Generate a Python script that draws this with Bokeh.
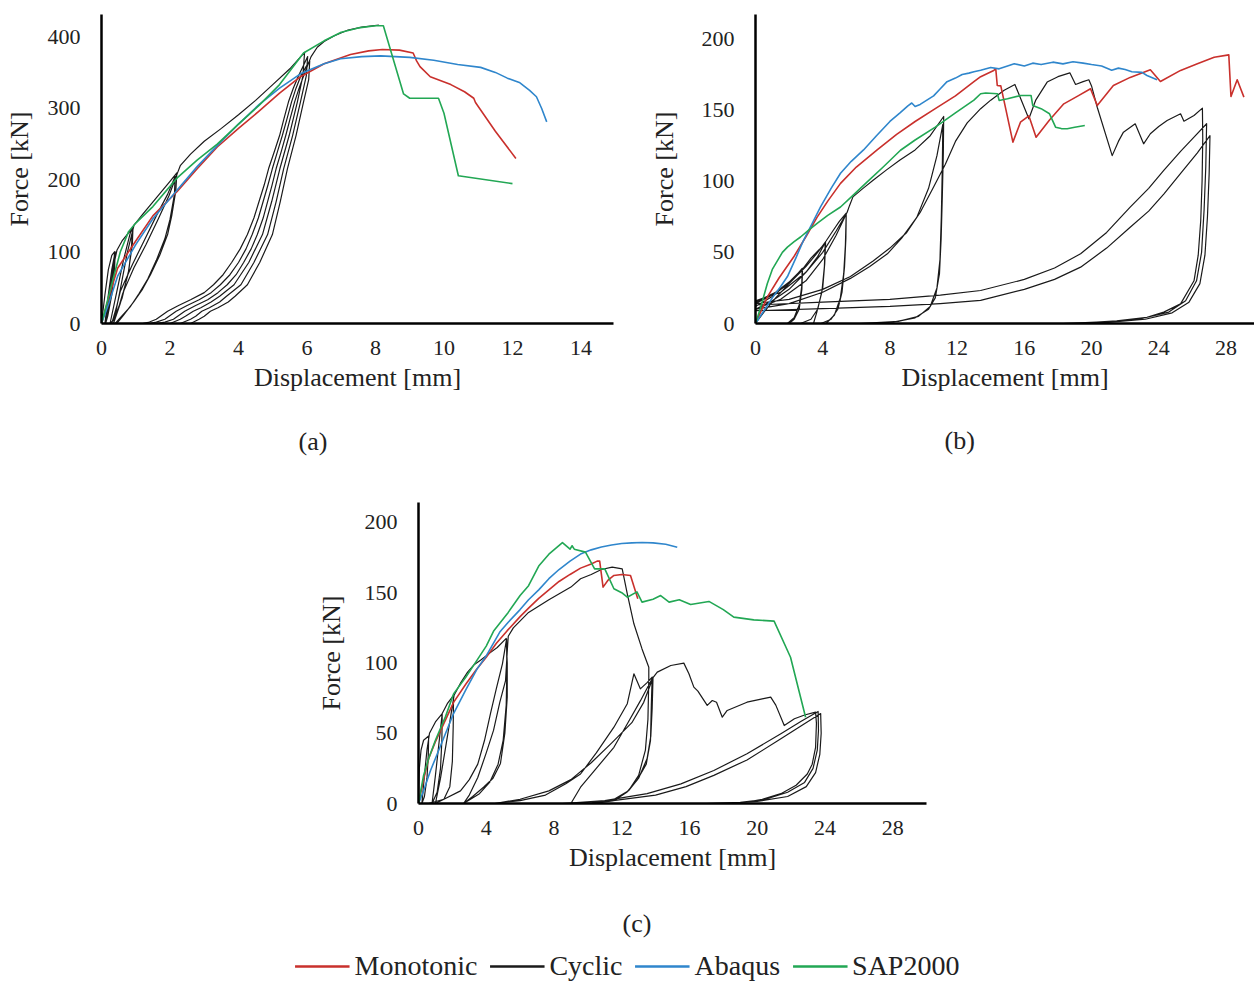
from bokeh.plotting import figure
from bokeh.layouts import column, row
from bokeh.models import Range1d, FixedTicker, Title, Legend, LegendItem
from bokeh.embed import file_html
from bokeh.resources import INLINE

FONT = "Liberation Serif"
TXT = "#222222"
RED = "#C9302C"
BLACK = "#1a1a1a"
BLUE = "#2F86CC"
GREEN = "#22A754"

SERIES = ["Monotonic", "Cyclic", "Abaqus", "SAP2000"]

# ---------------- (a) ----------------
a_xticks = [0, 2, 4, 6, 8, 10, 12, 14]
a_yticks = [0, 100, 200, 300, 400]

a_mono_x = [0, 0.25, 0.47, 1.0, 1.5, 2.21, 2.8, 3.38, 4.0, 4.6, 5.2, 5.81, 6.5, 7.27, 7.8, 8.2, 8.7, 9.1, 9.2, 9.3, 9.6, 10.2, 10.6, 10.87, 10.92, 11.5, 12.1]
a_mono_y = [0, 42, 77, 115, 150, 184, 216, 246, 272, 296, 321, 344, 362, 375, 380, 382, 381, 377, 366, 358, 344, 333, 323, 314, 308, 268, 230]

a_abq_x = [0, 0.2, 0.47, 1.0, 1.5, 2.21, 2.8, 3.38, 4.0, 4.6, 5.2, 5.81, 6.5, 6.98, 7.6, 8.15, 9.0, 9.7, 10.4, 11.07, 11.5, 11.85, 12.2, 12.5, 12.7, 12.85, 13.0]
a_abq_y = [0, 26, 66, 110, 146, 186, 219, 248, 278, 305, 328, 348, 362, 369, 372, 373, 371, 367, 361, 357, 350, 342, 336, 325, 316, 300, 281]

a_sap_x = [0, 0.3, 0.55, 0.79, 1.0, 1.5, 2.21, 2.8, 3.38, 4.0, 4.6, 5.2, 5.9, 6.5, 7.0, 7.5, 8.0, 8.23, 8.82, 9.0, 9.84, 10.0, 10.42, 12.0]
a_sap_y = [0, 55, 100, 128, 140, 163, 203, 228, 250, 278, 304, 333, 377, 394, 406, 412, 415, 415, 320, 314, 314, 293, 206, 195]

a_cyclic = [
    (0, 0), (0.1, 40), (0.2, 75), (0.3, 95), (0.38, 100),
    (0.36, 80), (0.3, 50), (0.2, 20), (0.1, 0),
    (0.2, 40), (0.3, 75), (0.4, 100),
    (0.38, 75), (0.3, 40), (0.18, 10), (0.12, 0),
    (0.25, 45), (0.35, 80), (0.45, 102),
    (0.6, 115), (0.8, 127), (0.9, 133),
    (0.88, 110), (0.8, 75), (0.6, 35), (0.35, 5), (0.25, 0),
    (0.45, 45), (0.65, 90), (0.85, 128), (0.92, 135),
    (0.9, 110), (0.78, 70), (0.55, 28), (0.35, 0),
    (0.55, 48), (0.75, 98), (0.95, 137),
    (1.2, 152), (1.6, 175), (2.0, 198), (2.2, 210),
    (2.17, 185), (2.05, 150), (1.93, 124), (1.7, 95), (1.43, 68), (1.2, 48), (0.94, 30), (0.65, 12), (0.45, 0),
    (0.3, 0), (0.45, 25), (0.55, 45), (0.9, 82), (1.23, 114), (1.6, 150), (1.93, 180), (2.15, 205),
    (2.13, 180), (2.0, 145), (1.85, 118), (1.6, 88), (1.35, 62), (1.1, 42), (0.85, 24), (0.55, 8), (0.4, 0),
    (0.35, 0), (0.5, 22), (0.62, 42), (0.95, 78), (1.3, 110), (1.65, 145), (1.97, 178), (2.22, 210),
    (2.3, 220), (2.6, 236), (3.0, 254), (3.5, 272), (4.0, 291), (4.5, 311), (5.0, 333), (5.5, 355), (5.93, 378),
    (5.88, 345), (5.72, 309), (5.48, 262), (5.21, 216), (4.97, 170), (4.70, 124), (4.3, 85), (3.87, 54), (3.45, 38), (3.2, 30), (2.9, 22), (2.68, 17), (2.45, 10), (2.3, 6), (2.0, 0),
    (1.2, 0), (1.4, 2), (1.6, 6), (1.93, 17), (2.25, 25), (2.6, 33), (3.0, 43), (3.27, 54), (3.55, 68), (3.8, 85), (4.05, 104), (4.26, 124), (4.45, 147), (4.6, 170), (4.75, 193), (4.88, 216), (5.05, 240), (5.2, 262), (5.33, 286), (5.46, 309), (5.6, 328), (5.75, 345), (5.9, 360), (6.02, 372),
    (5.98, 345), (5.81, 309), (5.58, 262), (5.32, 216), (5.1, 170), (4.85, 124), (4.45, 85), (4.07, 54), (3.65, 38), (3.45, 30), (3.15, 22), (2.93, 17), (2.75, 10), (2.6, 6), (2.3, 0),
    (1.4, 0), (1.6, 2), (1.85, 6), (2.18, 17), (2.5, 25), (2.85, 33), (3.2, 43), (3.47, 54), (3.75, 68), (4.0, 85), (4.22, 104), (4.40, 124), (4.58, 147), (4.72, 170), (4.86, 193), (4.99, 216), (5.14, 240), (5.28, 262), (5.42, 286), (5.55, 309), (5.68, 328), (5.82, 345), (5.96, 357), (6.08, 366),
    (6.05, 340), (5.9, 309), (5.68, 262), (5.43, 216), (5.22, 170), (4.99, 124), (4.62, 85), (4.26, 54), (3.9, 38), (3.7, 30), (3.4, 22), (3.18, 17), (3.0, 10), (2.85, 6), (2.6, 0),
    (1.6, 0), (1.85, 2), (2.1, 6), (2.43, 17), (2.75, 25), (3.1, 33), (3.4, 43), (3.67, 54), (3.93, 68), (4.15, 85), (4.37, 104), (4.55, 124), (4.72, 147), (4.85, 170), (4.98, 193), (5.10, 216), (5.25, 240), (5.38, 262), (5.51, 286), (5.64, 309), (5.77, 328), (5.9, 345),
    (6.02, 360), (6.12, 372), (6.3, 385), (6.5, 393), (6.8, 401), (7.2, 409), (7.6, 413), (8.1, 416),
]

# ---------------- (b) ----------------
b_xticks = [0, 4, 8, 12, 16, 20, 24, 28]
b_yticks = [0, 50, 100, 150, 200]

b_mono_x = [0, 0.7, 1.4, 2.27, 3.0, 3.67, 4.3, 5.06, 6.0, 7.24, 8.4, 9.5, 10.7, 11.9, 13.0, 13.4, 14.18, 14.3, 14.39, 14.6, 15.32, 15.77, 16.27, 16.7, 17.5, 18.35, 19.2, 19.94, 20.34, 21.3, 22.3, 23.5, 24.1, 25.3, 26.3, 27.3, 28.17, 28.3, 28.67, 29.07]
b_mono_y = [0, 18.5, 32, 46.7, 61, 74.8, 86, 98.5, 110, 122, 133, 142, 151, 160, 170, 173.5, 177.9, 179, 167.3, 167, 127.5, 141.5, 146, 131, 143, 154.4, 160, 165, 153.3, 167.3, 173, 178.3, 170.1, 177.9, 182.5, 187.2, 188.8, 159.6, 171.3, 159.1]

b_abq_x = [0, 0.5, 1.0, 1.5, 1.9, 2.4, 2.86, 3.4, 3.87, 4.5, 5.06, 5.7, 6.43, 7.2, 8.0, 8.6, 9.07, 9.3, 9.5, 9.8, 10.2, 10.6, 11.0, 11.4, 11.9, 12.3, 12.7, 13.0, 13.4, 14.0, 14.5, 15.0, 15.4, 16.0, 16.5, 17.0, 17.7, 18.3, 18.9, 19.5, 20.0, 20.6, 21.2, 21.6, 22.0, 22.4, 23.0, 23.3, 23.9]
b_abq_y = [0, 9, 18, 26, 33, 46, 58.5, 71, 82, 95, 105.6, 114, 122, 132, 142, 148, 153, 155, 152.5, 154, 157, 160, 165, 170, 172.5, 175, 176, 177, 178, 180, 179, 181, 182.6, 181, 183, 182, 183.7, 182.5, 184, 183, 182, 181, 178, 179.5, 178.5, 177, 176.5, 174.3, 171.3]

b_sap_x = [0, 0.3, 0.7, 1.0, 1.3, 1.6, 1.9, 2.3, 2.68, 3.2, 3.67, 4.3, 5.06, 5.8, 6.65, 7.6, 8.63, 9.5, 10.7, 11.9, 13.0, 13.4, 13.7, 14.4, 14.5, 15.0, 15.8, 16.4, 16.5, 17.0, 17.5, 17.86, 18.2, 18.55, 19.0, 19.6]
b_sap_y = [0, 11, 28, 38, 44, 50, 53.7, 57.5, 60.8, 66, 70.4, 76, 81.9, 90, 99.5, 110, 121.8, 129, 138, 148, 157, 161.5, 162, 161.5, 156.8, 158, 160.3, 160.3, 153.3, 151, 147.4, 138, 137, 136.9, 138, 139.2]

b_cyclic = [
    (0, 0), (0.5, 8), (1.2, 18), (2.0, 28), (2.78, 38.7),
    (2.75, 26), (2.6, 13), (2.3, 4), (1.9, 0), (0, 0), (0, 12),
    (1.0, 19), (2.0, 29), (2.8, 38.5),
    (2.76, 24), (2.6, 10), (2.3, 3), (2.0, 0), (0, 0), (0, 15),
    (1.2, 22), (2.2, 31), (2.85, 39),
    (3.3, 46), (3.8, 52), (4.17, 57),
    (4.12, 42), (4.0, 25), (3.7, 10), (3.3, 3), (2.68, 0), (0, 0), (0, 10),
    (1.0, 16), (2.0, 24), (3.0, 36), (3.7, 47), (4.15, 57),
    (4.1, 40), (3.95, 22), (3.65, 8), (3.45, 0), (0, 0), (0, 14),
    (1.0, 20), (2.0, 28), (3.0, 40), (3.7, 50), (4.2, 58),
    (4.6, 65), (5.0, 72), (5.4, 77.5),
    (5.38, 60), (5.3, 40), (5.15, 22), (4.9, 10), (4.5, 3), (3.9, 0), (0, 0), (0, 10),
    (1.5, 17), (3.0, 30), (4.0, 45), (4.8, 62), (5.4, 77),
    (5.35, 55), (5.25, 35), (5.05, 18), (4.7, 6), (4.2, 0), (0, 0), (0, 16),
    (1.5, 22), (3.0, 36), (4.0, 50), (4.8, 65), (5.45, 78),
    (5.6, 83), (5.8, 89), (6.4, 95), (7.0, 100.7), (7.8, 108), (8.6, 115), (9.5, 122), (10.4, 132), (11.2, 145.5),
    (11.18, 120), (11.12, 90), (11.05, 60), (10.95, 35), (10.7, 18), (10.3, 10), (9.5, 4), (8.2, 1), (6.5, 0), (0, 0), (0, 10),
    (2.0, 14), (4.0, 22), (5.65, 31.7), (6.8, 40), (7.85, 49), (8.7, 60), (9.6, 74.6), (10.3, 95), (10.8, 118), (11.15, 140),
    (11.12, 110), (11.06, 75), (10.98, 45), (10.8, 25), (10.4, 12), (9.7, 5), (8.5, 1.5), (6.2, 0), (0, 0), (0, 14),
    (2.0, 17), (4.0, 24), (5.65, 33), (7.0, 44), (8.0, 53), (9.0, 64), (9.8, 78), (10.6, 96), (11.3, 112), (11.9, 128), (12.6, 141), (13.4, 151), (14.0, 157), (14.8, 164), (15.44, 168),
    (16.27, 143.9), (16.67, 156.8), (17.0, 163), (17.36, 169.7), (18.0, 173.5), (18.71, 176.2), (19.05, 168), (19.5, 170), (19.84, 171.3), (20.0, 167), (20.34, 152), (21.23, 118), (21.6, 128), (21.9, 134.5), (22.6, 140.4), (23.1, 126.3), (23.5, 133.4), (24.0, 138.5), (24.5, 142.7), (25.3, 147.4), (25.5, 142.2), (26.1, 146.2), (26.6, 151.4),
    (26.62, 130), (26.58, 100), (26.5, 72.4), (26.35, 48), (26.1, 30), (25.3, 13.8), (24.3, 8), (23.3, 4.4), (21.5, 1.8), (20.3, 1), (18.3, 0), (0, 0), (0, 13),
    (4.0, 15), (8.0, 17), (11.0, 20), (13.4, 23.2), (16.0, 31), (17.8, 39), (19.35, 49), (20.9, 64), (22.3, 81.8), (23.4, 95), (24.3, 107.6), (25.3, 121), (26.1, 131), (26.85, 140.4),
    (26.8, 110), (26.7, 80), (26.55, 50), (26.25, 30), (25.6, 16), (24.6, 8), (23.0, 3.5), (21.0, 1), (18.8, 0), (0, 0), (0, 9),
    (4.0, 10.5), (8.0, 12), (11.0, 14), (13.4, 16.2), (16.0, 24), (17.8, 31), (19.35, 39.6), (20.9, 53), (22.3, 67.7), (23.4, 79), (24.3, 91), (25.4, 107), (26.3, 120), (27.05, 132),
    (27.0, 105), (26.9, 75), (26.75, 48), (26.45, 28), (25.8, 15), (24.8, 7.5), (23.2, 3), (21.0, 0.8), (19.0, 0),
]

# ---------------- (c) ----------------
c_xticks = [0, 4, 8, 12, 16, 20, 24, 28]
c_yticks = [0, 50, 100, 150, 200]

c_mono_x = [0, 0.3, 0.6, 1.0, 1.5, 2.07, 2.8, 3.4, 4.0, 4.6, 5.24, 6.0, 6.5, 7.1, 7.7, 8.3, 8.95, 9.57, 10.2, 10.55, 10.7, 10.9, 11.2, 11.54, 12.0, 12.52, 12.95]
c_mono_y = [0, 17, 32, 44, 57, 72, 85, 95, 104, 114, 123, 133, 139, 146, 152, 158, 163, 167.5, 170.5, 172.5, 172.5, 154, 159, 162.3, 163, 162.3, 145.7]

c_abq_x = [0, 0.3, 0.71, 1.1, 1.5, 2.07, 2.8, 3.47, 4.0, 4.8, 5.3, 6.0, 6.5, 7.1, 7.7, 8.3, 8.95, 9.57, 10.2, 10.8, 11.4, 12.0, 12.6, 13.2, 13.85, 14.6, 15.28]
c_abq_y = [0, 9, 23.5, 35, 47, 64, 81, 96, 105, 122, 129, 138, 145, 152, 160, 166.5, 172.5, 177.5, 180.5, 182.5, 184, 185, 185.5, 185.7, 185.5, 184.5, 182.4]

c_sap_x = [0, 0.3, 0.6, 1.0, 1.6, 2.07, 2.8, 3.4, 4.0, 4.45, 5.3, 6.0, 6.5, 7.1, 7.7, 8.5, 8.95, 9.07, 9.2, 9.86, 10.4, 11.0, 11.54, 12.0, 12.33, 12.9, 13.2, 13.85, 14.3, 14.8, 15.4, 16.07, 17.15, 18.0, 18.62, 19.8, 21.0, 21.97, 22.86]
c_sap_y = [0, 20, 32, 45, 62, 78, 90, 101, 112, 123, 136, 148, 155, 169, 177.4, 185.7, 181, 183.4, 181, 178.9, 167, 167, 152.8, 150, 146.8, 150.6, 143.3, 145.4, 148, 143.3, 145, 141.6, 143.8, 138, 132.6, 130.7, 129.8, 104.1, 61.4]

c_cyclic = [
    (0, 0), (0.05, 25), (0.15, 38), (0.3, 45), (0.6, 48),
    (0.58, 35), (0.5, 18), (0.35, 5), (0.2, 0),
    (0.35, 20), (0.5, 38), (0.65, 50), (1.0, 58), (1.4, 64),
    (1.38, 45), (1.3, 25), (1.1, 8), (0.8, 0),
    (1.0, 20), (1.2, 42), (1.4, 64), (1.7, 71), (2.07, 77),
    (2.05, 55), (2.0, 30), (1.85, 12), (1.5, 3), (1.0, 0),
    (1.3, 18), (1.6, 40), (1.9, 62), (2.1, 77),
    (2.5, 86), (2.9, 93.5), (3.3, 99), (3.66, 102), (4.2, 107), (4.65, 111), (5.18, 117.5),
    (5.24, 100), (5.24, 75.6), (5.1, 50), (4.84, 28.5), (4.4, 18), (3.84, 11.6), (3.2, 5), (2.66, 0),
    (0.6, 0), (1.5, 3), (2.48, 9), (3.0, 17), (3.5, 28), (3.9, 45), (4.25, 64), (4.6, 82), (4.96, 99.6), (5.2, 117),
    (5.22, 95), (5.18, 70), (5.0, 45), (4.7, 28), (4.2, 15), (3.6, 7), (2.66, 0),
    (3.0, 6), (3.5, 18.5), (4.0, 36), (4.43, 52), (4.8, 72), (5.14, 87.5), (5.25, 110), (5.3, 119),
    (5.6, 125), (6.5, 136), (7.7, 145), (9.0, 154), (9.57, 159.9), (10.2, 163), (10.8, 166.5), (11.44, 168.2), (12.03, 167), (12.33, 149.2), (12.72, 127.9), (13.2, 110), (13.6, 97), (13.6, 88.7),
    (13.55, 60), (13.4, 38), (13.0, 20), (12.4, 9), (11.4, 2), (10.2, 0),
    (4.4, 0), (6.0, 2), (7.5, 6), (8.7, 14), (9.57, 21), (10.5, 36), (11.54, 54.3), (12.33, 71), (12.72, 92.3),
    (13.1, 81.6), (13.5, 86), (13.8, 89.9),
    (13.75, 70), (13.7, 44.8), (13.45, 28), (12.9, 16.4), (12.3, 8), (11.54, 2), (10.4, 0),
    (9.0, 0), (9.57, 11.6), (10.5, 25), (11.54, 40), (12.3, 56), (13.1, 73), (13.85, 90),
    (13.8, 68), (13.72, 48), (13.5, 32), (13.0, 18), (12.4, 9), (11.6, 3), (10.6, 0),
    (4.5, 0), (6.0, 3), (7.7, 9), (9.0, 17), (10.2, 29), (11.4, 43), (12.6, 57.5), (13.3, 72), (13.85, 89.5),
    (14.1, 93.5), (14.9, 98.2), (15.67, 99.9), (15.97, 92.3), (16.26, 82.8), (16.5, 80), (17.05, 69.8), (17.35, 73.3), (17.6, 72), (17.94, 61.4), (18.23, 66.2), (19.4, 72.1), (20.3, 74.5), (20.8, 75.7), (21.1, 70), (21.6, 55.5), (22.2, 60.3), (22.8, 63), (23.45, 65),
    (23.5, 57), (23.45, 40), (23.25, 28), (22.96, 21), (22.3, 13), (21.4, 7), (20.3, 3), (19.4, 1), (17.5, 0),
    (8.5, 0), (11.0, 2), (13.5, 7), (15.5, 14), (17.44, 23.5), (19.4, 35.4), (21.4, 49.6), (22.6, 58.5), (23.6, 65.5),
    (23.62, 52), (23.55, 38), (23.3, 25), (22.8, 15), (21.8, 8), (20.5, 3), (19.0, 0.8), (17.0, 0),
    (9.0, 0), (11.5, 2), (14.0, 6), (15.8, 12), (17.44, 20), (19.4, 31), (21.4, 46), (22.7, 56), (23.75, 64),
    (23.78, 50), (23.7, 35), (23.45, 22), (22.9, 12), (21.8, 5), (20.0, 1.5), (18.0, 0),
]


def make_panel(xmax, ymax, xticks, yticks, fw, fh, bl, bt, br, bb, ylab_standoff):
    p = figure(frame_width=fw, frame_height=fh,
               x_range=Range1d(0, xmax), y_range=Range1d(0, ymax),
               output_backend="svg", toolbar_location=None,
               min_border_left=bl, min_border_right=br,
               min_border_top=bt, min_border_bottom=bb)
    p.outline_line_color = None
    p.grid.visible = False
    p.background_fill_color = "white"
    p.border_fill_color = "white"
    for ax in (p.xaxis[0], p.yaxis[0]):
        ax.axis_line_width = 2.5
        ax.axis_line_color = "black"
        ax.major_tick_line_color = None
        ax.minor_tick_line_color = None
        ax.major_tick_out = 0
        ax.major_tick_in = 0
        ax.minor_tick_out = 0
        ax.minor_tick_in = 0
        ax.major_label_text_font = FONT
        ax.major_label_text_font_size = "22px"
        ax.major_label_text_color = TXT
        ax.axis_label_text_font = FONT
        ax.axis_label_text_font_size = "26px"
        ax.axis_label_text_font_style = "normal"
        ax.axis_label_text_color = TXT
    p.xaxis[0].ticker = FixedTicker(ticks=xticks)
    p.yaxis[0].ticker = FixedTicker(ticks=yticks)
    p.xaxis[0].axis_label = "Displacement [mm]"
    p.yaxis[0].axis_label = "Force [kN]"
    p.xaxis[0].major_label_standoff = 17
    p.yaxis[0].major_label_standoff = 21
    p.xaxis[0].axis_label_standoff = 5
    p.yaxis[0].axis_label_standoff = ylab_standoff
    return p


def draw(p, mono, cyc, abq, sap):
    cx = [pt[0] for pt in cyc]
    cy = [pt[1] for pt in cyc]
    r_cyc = p.line(cx, cy, line_color=BLACK, line_width=1.2, line_join="round")
    r_mono = p.line(mono[0], mono[1], line_color=RED, line_width=1.6, line_join="round")
    r_abq = p.line(abq[0], abq[1], line_color=BLUE, line_width=1.6, line_join="round")
    r_sap = p.line(sap[0], sap[1], line_color=GREEN, line_width=1.6, line_join="round")
    return r_mono, r_cyc, r_abq, r_sap


def caption(p, text, offset, standoff):
    # a leading blank line leaves the gap between the axis title and the caption
    p.add_layout(Title(text="\n" + text, align="left", offset=offset, standoff=standoff,
                       vertical_align="top",
                       text_font=FONT, text_font_size="26px", text_font_style="normal",
                       text_color=TXT), "below")


pa = make_panel(14.95, 430.7, a_xticks, a_yticks, 512, 309, 101, 14, 15, 147, 11)
draw(pa, (a_mono_x, a_mono_y), a_cyclic, (a_abq_x, a_abq_y), (a_sap_x, a_sap_y))
caption(pa, "(a)", 197, 6)

pb = make_panel(29.7, 217.2, b_xticks, b_yticks, 499, 309, 127, 14, 0, 147, 20)
draw(pb, (b_mono_x, b_mono_y), b_cyclic, (b_abq_x, b_abq_y), (b_sap_x, b_sap_y))
caption(pb, "(b)", 189, 4)

pc = make_panel(30.0, 214.2, c_xticks, c_yticks, 508, 301, 418, 32, 328, 146, 16)
draw(pc, (c_mono_x, c_mono_y), c_cyclic, (c_abq_x, c_abq_y), (c_sap_x, c_sap_y))
caption(pc, "(c)", 204, 10)

# legend strip: the legend's renderers carry the (c) series, kept outside the visible range
pl = figure(frame_width=1241, frame_height=34, min_border_left=13, min_border_right=0,
            min_border_top=0, min_border_bottom=0,
            x_range=Range1d(0, 1), y_range=Range1d(-2, -1),
            x_axis_type=None, y_axis_type=None,
            output_backend="svg", toolbar_location=None)
pl.outline_line_color = None
pl.background_fill_color = "white"
pl.border_fill_color = "white"
leg_renderers = draw(pl, (c_mono_x, c_mono_y), c_cyclic, (c_abq_x, c_abq_y), (c_sap_x, c_sap_y))
for r in leg_renderers:
    r.glyph.line_width = 2.4
items = [LegendItem(label=name, renderers=[r]) for name, r in zip(SERIES, leg_renderers)]
leg = Legend(items=items, orientation="horizontal", location="center",
             label_text_font=FONT, label_text_font_size="28px", label_text_color=TXT,
             glyph_width=55, glyph_height=22, label_standoff=5, spacing=12,
             padding=0, margin=0, border_line_color=None, background_fill_alpha=0)
pl.add_layout(leg)

layout = column(row(pa, pb), pc, pl)

open("out.html", "w").write(file_html(layout, INLINE))
